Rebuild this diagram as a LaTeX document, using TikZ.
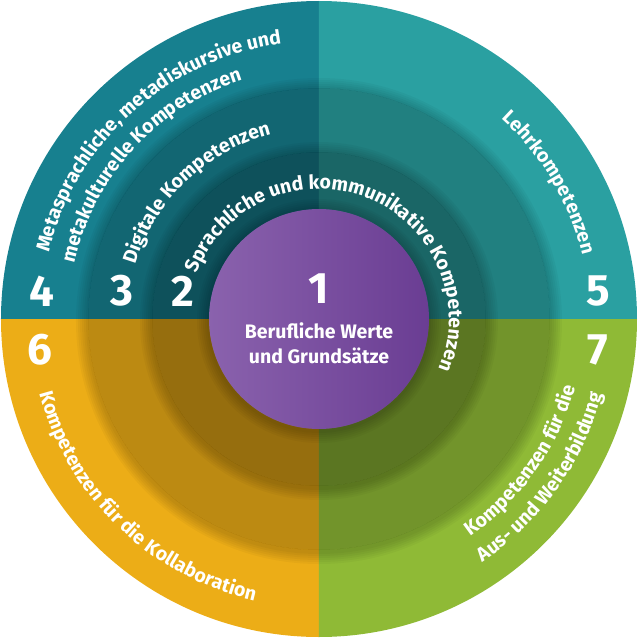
\documentclass[tikz,border=0pt]{standalone}
\usepackage{fontspec}
\setmainfont{Fira Sans}
\usetikzlibrary{decorations.text}
\definecolor{qTL}{HTML}{17808F}
\definecolor{qTR}{HTML}{2AA0A1}
\definecolor{qBL}{HTML}{ECAD17}
\definecolor{qBR}{HTML}{8FBA36}
\definecolor{purL}{HTML}{8A62AD}
\definecolor{purR}{HTML}{6A3D93}
\newcommand{\ctfont}{\fontsize{19.5}{19.5}\bfseries\selectfont}
\tikzset{
  num/.style={text=white,font=\fontsize{44}{44}\bfseries\selectfont,inner sep=0pt},
  ctr/.style={text=white,font=\fontsize{19.5}{19.5}\bfseries\selectfont,inner sep=0pt,anchor=base},
  ringshade/.style={black,opacity=0.2,even odd rule},
  soft/.style={black,opacity=0.03,even odd rule},
  arctext/.style={decorate,decoration={text along path,text align=center,text color=white,text={|\ctfont|#1}}},
}
\begin{document}
\begin{tikzpicture}[x=1pt,y=1pt]
\useasboundingbox (-319,-319) rectangle (319,319);
% quadrants
\fill[qTL] (0,0) -- (-318,0) arc[start angle=180,end angle=90,radius=318] -- cycle;
\fill[qTR] (0,0) -- (0,318) arc[start angle=90,end angle=0,radius=318] -- cycle;
\fill[qBL] (0,0) -- (0,-318) arc[start angle=270,end angle=180,radius=318] -- cycle;
\fill[qBR] (0,0) -- (318,0) arc[start angle=0,end angle=-90,radius=318] -- cycle;
% soft shadow of ring 3 disk
\foreach \k in {1,...,6} {\fill[soft] (0,-2) circle (231+2*\k) (0,0) circle (231);}
\fill[ringshade] (0,0) circle (231);
% soft shadow of ring 2 disk
\foreach \k in {1,...,6} {\fill[soft] (0,-2) circle (167+2*\k) (0,0) circle (167);}
\fill[ringshade] (0,0) circle (167);
% soft shadow of centre disk
\foreach \k in {1,...,6} {\fill[soft] (0,-2) circle (110+2*\k) (0,0) circle (110);}
\shade[left color=purL,right color=purR] (0,0) circle (110);
% numbers
\node[num] (n1) at (0,30) {1};
\node[num] (n2) at (-136,28) {2};
\node[num] (n3) at (-197,28) {3};
\node[num] (n4) at (-277,28) {4};
\node[num] (n5) at (279,28) {5};
\node[num] (n6) at (-279,-31) {6};
\node[num] (n7) at (279,-31) {7};
% centre text
\node[ctr] (c1) at (0,-19) {Berufliche Werte};
\node[ctr] (c2) at (0,-44) {und Grundsätze};
% curved texts (clockwise, letters facing outward)
\path[arctext={Sprachliche und kommunikative Kompetenzen}] (178.5:130) arc[start angle=178.5,end angle=-41.5,radius=130];
\path[arctext={Digitale Kompetenzen}] (214:191) arc[start angle=214,end angle=54,radius=191];
\path[arctext={Metasprachliche, metadiskursive und}] (222:278) arc[start angle=222,end angle=42,radius=278];
\path[arctext={metakulturelle Kompetenzen}] (217.5:251) arc[start angle=217.5,end angle=57.5,radius=251];
\path[arctext={Lehrkompetenzen}] (90.7:271) arc[start angle=90.7,end angle=-29.3,radius=271];
% curved texts (counter-clockwise, letters facing inward)
\path[arctext={Kompetenzen für die Kollaboration}] (146:289) arc[start angle=146,end angle=306,radius=289];
\path[arctext={Kompetenzen für die}] (-95:265) arc[start angle=-95,end angle=25,radius=265];
\path[arctext={Aus- und Weiterbildung}] (-95.5:293) arc[start angle=-95.5,end angle=24.5,radius=293];
\end{tikzpicture}
\end{document}
